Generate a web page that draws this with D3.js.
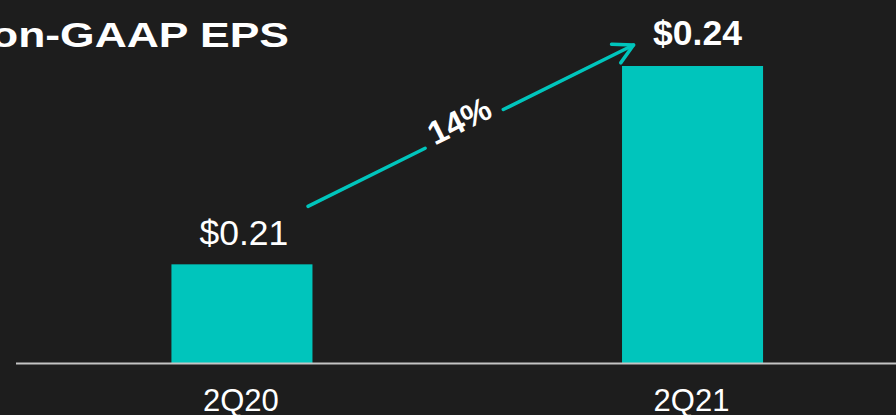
<!DOCTYPE html>
<html>
<head>
<meta charset="utf-8">
<script src="https://cdn.jsdelivr.net/npm/d3@7"></script>
<style>
  html, body { margin: 0; padding: 0; background: #1d1d1d; }
  svg { display: block; }
</style>
</head>
<body>
<svg id="chart" width="896" height="415"></svg>
<script>
// Quarterly non-GAAP earnings per share
const quarters = ["2Q20", "2Q21"];
const eps = [0.21, 0.24];
const valueLabels = ["$0.21", "$0.24"];
const growthLabel = "14%";
const titleText = "Non-GAAP EPS";

const W = 896, H = 415;
const teal = "#00c5bc";
const svg = d3.select("#chart");

svg.append("rect").attr("width", W).attr("height", H).attr("fill", "#1d1d1d");

const x = d3.scaleBand()
  .domain(quarters)
  .range([16, W])
  .paddingInner(0.687)
  .paddingOuter(0.32)
  .align(0.539);

// truncated value axis, baseline at the rule
const y = d3.scaleLinear().domain([0.195, 0.24]).range([363.5, 66]);

// bars
svg.selectAll("rect.bar")
  .data(quarters)
  .join("rect")
  .attr("class", "bar")
  .attr("x", d => x(d))
  .attr("width", x.bandwidth())
  .attr("y", (d, i) => y(eps[i]))
  .attr("height", (d, i) => y.range()[0] - y(eps[i]))
  .attr("fill", teal);

// baseline rule
svg.append("line")
  .attr("x1", 16).attr("x2", W)
  .attr("y1", y.range()[0]).attr("y2", y.range()[0])
  .attr("stroke", "#c4c4c4").attr("stroke-width", 2);

// category labels
svg.selectAll("text.cat")
  .data(quarters)
  .join("text")
  .attr("class", "cat")
  .attr("x", d => x(d) + x.bandwidth() / 2 - 1)
  .attr("y", 411)
  .attr("text-anchor", "middle")
  .attr("font-family", "Liberation Sans, Arial, sans-serif")
  .attr("font-size", 31)
  .attr("fill", "#ffffff")
  .text(d => d);

// value labels (latest quarter emphasised)
svg.selectAll("text.val")
  .data(quarters)
  .join("text")
  .attr("class", "val")
  .attr("x", (d, i) => x(d) + x.bandwidth() / 2 + (i === 1 ? 5 : 2))
  .attr("y", (d, i) => y(eps[i]) - (i === 1 ? 21 : 19))
  .attr("text-anchor", "middle")
  .attr("font-family", "Liberation Sans, Arial, sans-serif")
  .attr("font-size", 35.5)
  .attr("font-weight", (d, i) => i === 1 ? "bold" : "normal")
  .attr("fill", "#ffffff")
  .text((d, i) => valueLabels[i]);

// title, partly running off the left edge
svg.append("text")
  .attr("transform", "translate(289,47) scale(1.27,1)")
  .attr("text-anchor", "end")
  .attr("font-family", "Liberation Sans, Arial, sans-serif")
  .attr("font-size", 35)
  .attr("font-weight", "bold")
  .attr("fill", "#ffffff")
  .text(titleText);

// growth arrow from the first bar's label to the second
const p0 = [x(quarters[0]) + x.bandwidth() / 2 + 66, y(eps[0]) - 58];
const p1 = [x(quarters[1]) + 11.5, y(eps[1]) - 21];
const dx = p1[0] - p0[0], dy = p1[1] - p0[1];
const ang = Math.atan2(dy, dx);
const at = t => [p0[0] + dx * t, p0[1] + dy * t];
const gapA = at(0.36), gapB = at(0.60);

const arrow = svg.append("g")
  .attr("stroke", teal)
  .attr("stroke-width", 3.5)
  .attr("stroke-linecap", "round")
  .attr("stroke-linejoin", "round")
  .attr("fill", "none");

arrow.append("path").attr("d", d3.line()([p0, gapA]));
arrow.append("path").attr("d", d3.line()([gapB, p1]));

const headLen = 22, headSpread = 28 * Math.PI / 180;
const back = ang + Math.PI;
const h1 = [p1[0] + headLen * Math.cos(back - headSpread), p1[1] + headLen * Math.sin(back - headSpread)];
const h2 = [p1[0] + headLen * Math.cos(back + headSpread), p1[1] + headLen * Math.sin(back + headSpread)];
arrow.append("path").attr("d", d3.line()([h1, p1, h2]));

const mid = at(0.478);
svg.append("text")
  .attr("transform", `translate(${mid[0]},${mid[1]}) rotate(${ang * 180 / Math.PI})`)
  .attr("text-anchor", "middle")
  .attr("dy", 2)
  .attr("font-family", "Liberation Sans, Arial, sans-serif")
  .attr("font-size", 33)
  .attr("font-weight", "bold")
  .attr("fill", "#ffffff")
  .text(growthLabel);
</script>
</body>
</html>
